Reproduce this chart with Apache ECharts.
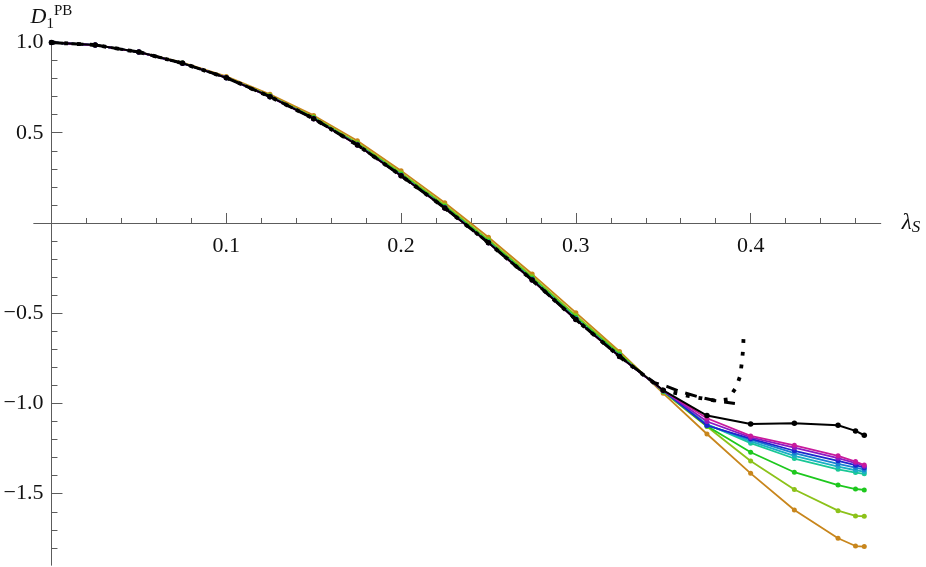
<!DOCTYPE html>
<html>
<head>
<meta charset="utf-8">
<script src="https://cdn.jsdelivr.net/npm/echarts@6/dist/echarts.min.js"></script>
<style>html,body{margin:0;padding:0;background:#fff}#c{width:926px;height:567px}</style>
</head>
<body>
<div id="c"></div>
<script>
// ---- data ----
const xs = [0,0.025,0.05,0.075,0.1,0.125,0.15,0.175,0.2,0.225,0.25,0.275,0.3,0.325,0.35,0.375,0.4,0.425,0.45,0.46,0.465];
const blackVals     = [1.0,0.986,0.947,0.885,0.805,0.700,0.578,0.432,0.262,0.083,-0.110,-0.316,-0.535,-0.740,-0.927,-1.067,-1.114,-1.110,-1.121,-1.152,-1.176];
const orangeVals    = [1.0,0.986,0.948,0.888,0.812,0.713,0.596,0.456,0.290,0.112,-0.079,-0.283,-0.497,-0.712,-0.944,-1.169,-1.387,-1.590,-1.747,-1.790,-1.793];
const ygreenVals    = [1.0,0.986,0.947,0.886,0.808,0.706,0.587,0.444,0.278,0.100,-0.092,-0.296,-0.512,-0.722,-0.936,-1.128,-1.319,-1.477,-1.594,-1.623,-1.625];
const greenVals     = [1.0,0.986,0.947,0.886,0.806,0.703,0.583,0.438,0.270,0.092,-0.101,-0.306,-0.523,-0.730,-0.932,-1.125,-1.270,-1.381,-1.452,-1.474,-1.479];
const tealgreenVals = [1.0,0.986,0.947,0.885,0.805,0.701,0.580,0.435,0.265,0.087,-0.106,-0.311,-0.529,-0.735,-0.930,-1.115,-1.220,-1.305,-1.365,-1.383,-1.390];
const cyanVals      = [1.0,0.986,0.947,0.885,0.805,0.700,0.579,0.434,0.264,0.085,-0.108,-0.313,-0.531,-0.737,-0.930,-1.118,-1.210,-1.290,-1.350,-1.370,-1.378];
const azureVals     = [1.0,0.986,0.947,0.885,0.805,0.700,0.579,0.433,0.263,0.084,-0.109,-0.314,-0.533,-0.738,-0.929,-1.120,-1.200,-1.275,-1.335,-1.355,-1.366];
const blueVals      = [1.0,0.986,0.947,0.885,0.805,0.700,0.578,0.433,0.263,0.084,-0.109,-0.315,-0.534,-0.739,-0.929,-1.122,-1.195,-1.262,-1.318,-1.342,-1.356];
const purpleVals    = [1.0,0.986,0.947,0.885,0.805,0.700,0.578,0.432,0.262,0.083,-0.110,-0.316,-0.535,-0.740,-0.928,-1.100,-1.188,-1.245,-1.303,-1.330,-1.348];
const magentaVals   = [1.0,0.986,0.947,0.885,0.805,0.700,0.578,0.432,0.262,0.083,-0.110,-0.316,-0.535,-0.740,-0.928,-1.082,-1.180,-1.232,-1.290,-1.322,-1.341];

const xDash = [0,0.025,0.05,0.075,0.1,0.125,0.15,0.175,0.2,0.225,0.25,0.275,0.3,0.325,0.345,0.352,0.36,0.37,0.38,0.391];
const yDash = [1.0,0.986,0.947,0.885,0.805,0.700,0.578,0.432,0.262,0.083,-0.110,-0.316,-0.535,-0.740,-0.885,-0.905,-0.935,-0.963,-0.985,-1.0];
const xDot  = [0,0.025,0.05,0.075,0.1,0.125,0.15,0.175,0.2,0.225,0.25,0.275,0.3,0.325,0.35,0.365,0.38,0.387,0.3915,0.394,0.395,0.3957,0.396];
const yDot  = [1.0,0.986,0.947,0.885,0.805,0.700,0.578,0.432,0.262,0.083,-0.110,-0.316,-0.535,-0.740,-0.927,-0.960,-0.985,-0.977,-0.914,-0.848,-0.770,-0.698,-0.615];

const xMajorTicks = [0.1,0.2,0.3,0.4];
const xMinorTicks = [0.02,0.04,0.06,0.08,0.12,0.14,0.16,0.18,0.22,0.24,0.26,0.28,0.32,0.34,0.36,0.38,0.42,0.44,0.46];
const yMajorTicks = [-1.5,-1.0,-0.5,0.5,1.0];
const yMinorTicks = [-1.8,-1.7,-1.6,-1.4,-1.3,-1.2,-1.1,-0.9,-0.8,-0.7,-0.6,-0.4,-0.3,-0.2,-0.1,0.1,0.2,0.3,0.4,0.6,0.7,0.8,0.9];

// ---- layout ----
const W = 926, H = 567;
const G = { left: 34, right: 45.3, top: 41.6, bottom: 2 };
const X_MIN = -0.01, X_MAX = 0.4744, Y_MIN = -1.895, Y_MAX = 1.005;
const gridW = W - G.left - G.right, gridH = H - G.top - G.bottom;
// move axes from grid edges to the zero lines (axes cross at origin)
const xAxisOffset = -((0 - Y_MIN) / (Y_MAX - Y_MIN)) * gridH;
const yAxisOffset = -((0 - X_MIN) / (X_MAX - X_MIN)) * gridW;

const pair = (xArr, yArr) => xArr.map((x, i) => [x, yArr[i]]);
const FONT = 'Liberation Serif';
const AX = '#5c5c5c';

function markerLine(name, vals, color, z, width, size) {
  return {
    name, type: 'line', data: pair(xs, vals), xAxisIndex: 0, yAxisIndex: 0,
    symbol: 'circle', symbolSize: size, showSymbol: true,
    lineStyle: { color, width }, itemStyle: { color },
    z: z, animation: false, silent: true
  };
}

const colored = [
  ['orange', orangeVals, '#c8861c'],
  ['ygreen', ygreenVals, '#8cc21a'],
  ['green', greenVals, '#1ec81e'],
  ['tealgreen', tealgreenVals, '#1ac896'],
  ['cyan', cyanVals, '#1ab0c4'],
  ['azure', azureVals, '#1a80d2'],
  ['blue', blueVals, '#1a28cc'],
  ['purple', purpleVals, '#8a1ac4'],
  ['magenta', magentaVals, '#c81a9c']
];

const series = colored.map((c, i) => markerLine(c[0], c[1], c[2], 2 + i * 0.01, 1.8, 5));
series.push(markerLine('black', blackVals, '#000', 3, 2, 5.5));
series.push({
  name: 'dashed', type: 'line', data: pair(xDash, yDash), xAxisIndex: 0, yAxisIndex: 0,
  symbol: 'none', lineStyle: { color: '#000', width: 3, type: [12, 8], cap: 'butt' },
  z: 4, animation: false, silent: true
});
series.push({
  name: 'dotted', type: 'line', data: pair(xDot, yDot), xAxisIndex: 0, yAxisIndex: 0,
  symbol: 'none', lineStyle: { color: '#000', width: 3.8, type: [3.8, 9], cap: 'butt' },
  z: 4, animation: false, silent: true
});

const fmtY = v => { const n = Number(v); return (n < 0 ? '\u2212' : '') + Math.abs(n).toFixed(1); };
const fmtX = v => Number(v).toFixed(1);

const xBase = {
  type: 'value', min: X_MIN, max: X_MAX, position: 'bottom', offset: xAxisOffset,
  axisLine: { show: true, onZero: false, lineStyle: { color: AX, width: 1 } },
  splitLine: { show: false }
};
const yBase = {
  type: 'value', min: Y_MIN, max: Y_MAX, position: 'left', offset: yAxisOffset,
  axisLine: { show: true, onZero: false, lineStyle: { color: AX, width: 1 } },
  splitLine: { show: false }
};

const option = {
  backgroundColor: '#fff',
  animation: false,
  grid: { left: G.left, right: G.right, top: G.top, bottom: G.bottom, containLabel: false, outerBoundsMode: 'none' },
  xAxis: [
    Object.assign({}, xBase, {
      axisTick: { show: true, inside: true, length: 10, customValues: xMajorTicks, lineStyle: { color: AX } },
      axisLabel: { show: true, customValues: xMajorTicks, formatter: fmtX, margin: 12,
        fontFamily: FONT, fontSize: 22, color: '#111' },
      name: '{i|\u03bb}{s|S}', nameLocation: 'end', nameGap: 21,
      nameTextStyle: {
        rich: {
          i: { fontFamily: FONT, fontStyle: 'italic', fontSize: 23, color: '#111', lineHeight: 26, verticalAlign: 'middle' },
          s: { fontFamily: FONT, fontStyle: 'italic', fontSize: 17, color: '#111', lineHeight: 14, verticalAlign: 'bottom' }
        }
      }
    }),
    Object.assign({}, xBase, {
      axisTick: { show: true, inside: true, length: 5, customValues: xMinorTicks, lineStyle: { color: AX } },
      axisLabel: { show: false }
    })
  ],
  yAxis: [
    Object.assign({}, yBase, {
      axisTick: { show: true, inside: true, length: 11, customValues: yMajorTicks, lineStyle: { color: AX } },
      axisLabel: { show: true, customValues: yMajorTicks, formatter: fmtY, margin: 8,
        fontFamily: FONT, fontSize: 22, color: '#111' },
      name: '{i|D}{s|1}{p|PB}', nameLocation: 'end', nameGap: 1,
      nameTextStyle: {
        align: 'center',
        rich: {
          i: { fontFamily: FONT, fontStyle: 'italic', fontSize: 22, color: '#111', lineHeight: 28, verticalAlign: 'middle' },
          s: { fontFamily: FONT, fontSize: 15, color: '#111', lineHeight: 14, verticalAlign: 'bottom' },
          p: { fontFamily: FONT, fontSize: 15, color: '#111', lineHeight: 14, verticalAlign: 'top' }
        }
      }
    }),
    Object.assign({}, yBase, {
      axisTick: { show: true, inside: true, length: 6, customValues: yMinorTicks, lineStyle: { color: AX } },
      axisLabel: { show: false }
    })
  ],
  series
};

const chart = echarts.init(document.getElementById('c'), null, { renderer: 'canvas' });
chart.setOption(option);
</script>
</body>
</html>
